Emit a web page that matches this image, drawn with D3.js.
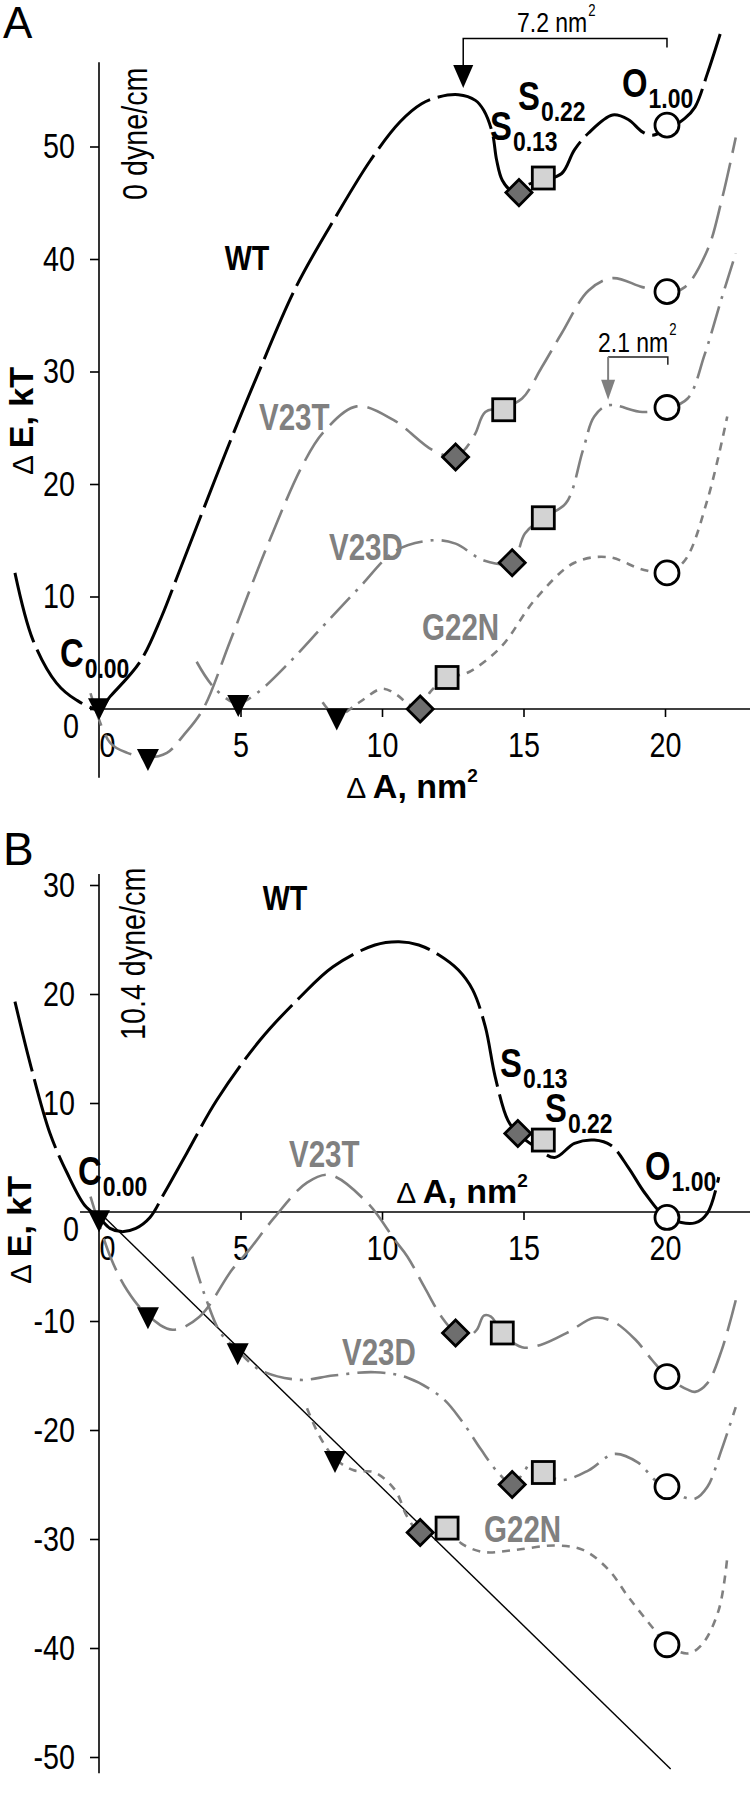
<!DOCTYPE html>
<html>
<head>
<meta charset="utf-8">
<script src="https://cdn.jsdelivr.net/npm/d3@7"></script>
<style>
  body { margin: 0; background: #fff; }
</style>
</head>
<body>
<svg id="chart" width="750" height="1800"></svg>
<script>
// ---- data (area change in nm^2, energy in kT) ----
const xTicks = [0, 5, 10, 15, 20];
const yTicksA = [0, 10, 20, 30, 40, 50];
const yTicksB = [30, 20, 10, 0, -10, -20, -30, -40, -50];

// panel A, 0 dyne/cm
const wtA = [[-2.97,12.1],[-2.33,6.1],[-1.5,2.3],[-0.8,0.8],[0,0],[0.39,1.1],[1.45,4.2],[2.21,8.2],[2.74,11.6],[3.45,16.2],[4.51,23.0],[5.57,29.5],[6.98,37.6],[8.4,43.9],[9.6,48.8],[10.64,52.2],[11.4,53.8],[12.0,54.4],[12.7,54.6],[13.3,54.1],[13.6,53.2],[13.9,51.2],[14.05,48.8],[14.25,47.0],[14.6,46.0],[14.85,45.9],[15.15,46.6],[15.7,47.0],[16.35,47.6],[16.8,49.7],[17.3,51.2],[18.15,52.8],[18.7,52.4],[19.2,51.3],[19.55,51.0],[20.07,51.5],[20.7,52.5],[21.06,53.5],[21.5,56.5],[21.95,60]];
const v23tA = [[-0.3,1.4],[0.39,-3.0],[1.0,-3.9],[1.73,-4.3],[2.4,-3.9],[3.0,-2.3],[3.68,0],[4.63,6.0],[5.93,14.4],[7.22,21.8],[7.93,24.6],[9.1,26.9],[10.4,25.7],[11.8,23.0],[12.6,22.4],[13.0,23.3],[13.3,24.5],[13.65,26.4],[14.3,26.8],[14.95,27.6],[15.65,30.4],[16.35,33.4],[17.3,37.2],[18.15,38.3],[19.2,37.5],[20.07,37.0],[20.7,37.5],[21.5,40.8],[22.0,45.2],[22.5,50.8]];
const v23dA = [[3.45,4.2],[4.1,1.8],[4.9,0.5],[5.57,1.4],[6.75,4.2],[7.93,7.4],[9.2,10.8],[10.5,14.1],[11.8,15.0],[12.6,14.7],[13.6,13.2],[14.6,13.0],[15.05,15.6],[15.7,17.0],[16.5,18.3],[17.1,23.0],[17.5,26.0],[18.0,27.0],[19.2,26.4],[20.07,26.7],[20.8,27.6],[21.4,31.5],[22.0,36.5],[22.5,40.5]];
const g22nA = [[7.9,0.6],[8.4,-0.6],[9.2,0.6],[10.0,1.8],[10.5,1.3],[10.9,0.5],[11.35,0],[11.7,1.5],[12.3,2.8],[13.0,3.2],[14.2,5.5],[15.4,9.7],[16.8,13.0],[18.0,13.5],[19.2,12.4],[20.07,12.1],[20.7,13.2],[21.5,18.6],[22.2,26.0]];

const closedA = [[0,0.3],[1.73,-4.2],[4.92,0.6],[8.4,-0.6]];
const sub013A = [[14.84,45.9],[12.6,22.4],[14.6,13.0],[11.35,0]];
const sub022A = [[15.7,47.2],[14.3,26.6],[15.7,17.0],[12.3,2.8]];
const openA = [[20.07,51.9],[20.07,37.1],[20.07,26.8],[20.07,12.1]];

// panel B, 10.4 dyne/cm
const wtB = [[-2.97,19.3],[-2.4,13.3],[-1.73,7.2],[-1.13,3.6],[-0.5,0.6],[0,-0.5],[0.39,-1.5],[0.8,-1.8],[1.3,-1.5],[1.8,-0.5],[2.3,1.7],[3.1,5.4],[4.17,10.3],[5.7,15.8],[7.1,19.7],[8.27,22.5],[9.75,24.5],[10.6,24.8],[11.3,24.5],[12.0,23.6],[12.7,22.2],[13.2,20.4],[13.65,17.0],[14.0,12.4],[14.45,8.4],[14.8,7.2],[15.4,6.0],[16.1,5.0],[16.8,6.3],[17.5,6.6],[18.1,6.1],[18.7,4.1],[19.3,1.7],[20.07,-0.5],[21.06,-1.0],[21.5,-0.1],[21.9,3.2]];
const v23tB = [[-0.3,1.4],[0.4,-4.1],[1.0,-7.2],[1.73,-9.5],[2.6,-10.8],[3.55,-9.6],[4.7,-5.3],[5.3,-3.5],[6.2,-0.5],[7.35,2.7],[8.16,3.4],[9.5,0.8],[10.46,-2.6],[10.9,-4.1],[11.5,-6.9],[12.1,-9.6],[12.6,-11.1],[13.0,-11.5],[13.35,-10.8],[13.6,-9.5],[13.85,-9.6],[14.25,-11.1],[14.95,-12.4],[15.6,-12.2],[16.6,-11.0],[17.5,-9.7],[18.2,-10.1],[18.95,-11.7],[19.55,-13.6],[20.07,-15.1],[20.8,-16.3],[21.06,-16.5],[21.5,-15.7],[22.0,-12.7],[22.5,-8.1]];
const v23dB = [[3.3,-4.1],[3.8,-8.1],[4.3,-11.1],[4.9,-12.7],[5.7,-14.5],[7.1,-15.4],[8.27,-15.0],[9.75,-14.7],[10.9,-15.2],[12.1,-17.0],[12.8,-19.1],[13.5,-21.8],[14.1,-23.9],[14.6,-25.0],[15.05,-23.7],[15.25,-23.0],[15.7,-23.9],[16.35,-24.6],[17.3,-23.7],[18.2,-22.2],[19.05,-23.0],[19.65,-24.6],[20.07,-25.2],[20.7,-26.2],[21.06,-26.3],[21.5,-25.2],[22.0,-21.8],[22.5,-17.9]];
const g22nB = [[7.35,-18.0],[7.8,-20.6],[8.34,-22.6],[9.0,-23.7],[9.75,-23.9],[10.46,-25.5],[10.9,-28.0],[11.35,-29.4],[12.3,-29.0],[12.8,-30.4],[13.6,-31.2],[14.7,-31.0],[16.1,-30.6],[17.1,-31.0],[18.0,-32.8],[18.7,-35.3],[19.55,-38.1],[20.07,-39.7],[20.8,-40.5],[21.3,-39.7],[21.9,-36.5],[22.2,-31.7]];

const closedB = [[0,-0.5],[1.73,-9.4],[4.9,-12.7],[8.34,-22.6]];
const sub013B = [[14.8,7.2],[12.6,-11.1],[14.6,-25.0],[11.35,-29.4]];
const sub022B = [[15.7,6.6],[14.25,-11.1],[15.7,-23.9],[12.3,-29.0]];
const openB = [[20.07,-0.5],[20.07,-15.1],[20.07,-25.2],[20.07,-39.7]];
const tensionLine = [[0,0],[20.2,-51.1]];

// ---- setup ----
const SANS = '"Liberation Sans",Arial,sans-serif';
const GRAY = "#808080";

const svg = d3.select("#chart");
const x = d3.scaleLinear().domain([0, 20]).range([99, 665]);
const yA = d3.scaleLinear().domain([0, 50]).range([709, 146.5]);
const yB = d3.scaleLinear().domain([0, -50]).range([1212, 1757]);

const lineStyles = [
  { stroke: "#000", width: 3, dash: "72 8" },
  { stroke: GRAY, width: 2.6, dash: "34 10" },
  { stroke: GRAY, width: 2.6, dash: "28 8 3 8" },
  { stroke: GRAY, width: 2.6, dash: "8 7" }
];

// no condensed face installed, so squeeze the glyphs like Arial Narrow
function squeeze(sel, f = 0.82) {
  sel.each(function () {
    const len = this.getComputedTextLength();
    if (len > 0) d3.select(this).attr("textLength", len * f).attr("lengthAdjust", "spacingAndGlyphs");
  });
}

function txt(s, px, py, o = {}) {
  const t = svg.append("text").attr("x", px).attr("y", py).text(s)
    .attr("font-family", SANS)
    .attr("font-size", o.size || 34)
    .attr("font-weight", o.weight || "normal")
    .attr("fill", o.fill || "#000")
    .attr("text-anchor", o.anchor || "start");
  if (o.rotate) t.attr("transform", `rotate(-90,${px},${py})`);
  if (o.narrow !== false) t.call(squeeze);
  return t;
}

function stateLabel(letter, sub, px, py) {
  const t = txt(letter, px, py, { size: 40, weight: "bold" });
  const w = t.node().getBBox().width;
  txt(sub, px + w + 1, py + 11, { size: 28, weight: "bold" });
}

function deltaTitle(word, px, py, rotate) {
  const t = svg.append("text").attr("x", px).attr("y", py).attr("font-family", SANS)
    .attr("text-anchor", "middle");
  if (rotate) t.attr("transform", `rotate(-90,${px},${py})`);
  t.append("tspan").attr("font-size", 30).text("\u0394 ");
  t.append("tspan").attr("font-size", 34).attr("font-weight", "bold").text(word);
  if (!rotate) t.append("tspan").attr("font-size", 19).attr("font-weight", "bold").attr("dy", -16).text("2");
  return t;
}

function drawPanel(y, yTicks, yLo, yHi, xLeft, curves, markers) {
  // x axis
  const gx = svg.append("g").attr("transform", `translate(0,${y(0)})`)
    .call(d3.axisBottom(x).tickValues(xTicks).tickSize(8).tickPadding(15).tickFormat(d => String(d)));
  gx.attr("font-family", SANS).attr("font-size", 35);
  gx.select(".domain").remove();
  gx.append("line").attr("x1", x(xLeft)).attr("x2", 750).attr("stroke", "#000").attr("stroke-width", 1.6);
  gx.selectAll(".tick line").attr("stroke-width", 1.6);
  gx.selectAll(".tick text").filter(d => d === 0).attr("x", 8);
  gx.selectAll(".tick text").call(squeeze);

  // y axis
  const gy = svg.append("g").attr("transform", `translate(${x(0)},0)`)
    .call(d3.axisLeft(y).tickValues(yTicks).tickSize(9).tickPadding(15).tickFormat(d => String(d)));
  gy.attr("font-family", SANS).attr("font-size", 35);
  gy.select(".domain").remove();
  gy.append("line").attr("y1", y(yLo)).attr("y2", y(yHi)).attr("stroke", "#000").attr("stroke-width", 1.6);
  gy.selectAll(".tick line").attr("stroke-width", 1.6);
  gy.selectAll(".tick text").filter(d => d === 0).attr("y", 17).attr("x", -20);
  gy.selectAll(".tick text").call(squeeze);

  const line = d3.line().x(d => x(d[0])).y(d => y(d[1])).curve(d3.curveCatmullRom.alpha(0.5));
  curves.forEach((c, i) => {
    const s = lineStyles[i];
    svg.append("path").datum(c).attr("d", line)
      .attr("fill", "none").attr("stroke", s.stroke).attr("stroke-width", s.width)
      .attr("stroke-dasharray", s.dash);
  });

  const [closed, s013, s022, open] = markers;
  svg.append("g").selectAll("path").data(closed).join("path")
    .attr("d", "M-11,-7.3L11,-7.3L0,14.7Z")
    .attr("transform", d => `translate(${x(d[0])},${y(d[1])})`)
    .attr("fill", "#000");
  svg.append("g").selectAll("path").data(s013).join("path")
    .attr("d", d3.symbol(d3.symbolSquare, 340))
    .attr("transform", d => `translate(${x(d[0])},${y(d[1])}) rotate(45)`)
    .attr("fill", "#6e6e6e").attr("stroke", "#000").attr("stroke-width", 2.8);
  svg.append("g").selectAll("rect").data(s022).join("rect")
    .attr("x", d => x(d[0]) - 11).attr("y", d => y(d[1]) - 11)
    .attr("width", 22).attr("height", 22)
    .attr("fill", "#d3d3d3").attr("stroke", "#000").attr("stroke-width", 2.8);
  svg.append("g").selectAll("circle").data(open).join("circle")
    .attr("cx", d => x(d[0])).attr("cy", d => y(d[1])).attr("r", 12)
    .attr("fill", "#fff").attr("stroke", "#000").attr("stroke-width", 2.8);
}

// ---- panel A ----
drawPanel(yA, yTicksA, -6.1, 57.5, 0, [wtA, v23tA, v23dA, g22nA], [closedA, sub013A, sub022A, openA]);

// ---- panel B ----
svg.append("path").datum(tensionLine)
  .attr("d", d3.line().x(d => x(d[0])).y(d => yB(d[1])))
  .attr("stroke", "#000").attr("stroke-width", 1.4).attr("fill", "none");
drawPanel(yB, yTicksB, 31, -51.5, -0.67, [wtB, v23tB, v23dB, g22nB], [closedB, sub013B, sub022B, openB]);

// ---- annotations A ----
txt("A", 3, 38, { size: 44, narrow: false });
txt("0 dyne/cm", 147, 200, { size: 35, rotate: true });
txt("WT", 247, 270, { size: 35, weight: "bold", anchor: "middle" });
txt("V23T", 259, 430, { size: 36, weight: "bold", fill: GRAY });
txt("V23D", 329, 560, { size: 36, weight: "bold", fill: GRAY });
txt("G22N", 422, 640, { size: 36, weight: "bold", fill: GRAY });
stateLabel("C", "0.00", 60, 667);
stateLabel("S", "0.13", 490, 140);
stateLabel("S", "0.22", 518, 110);
stateLabel("O", "1.00", 622, 97);

// 7.2 nm2 bracket
svg.append("path")
  .attr("d", `M${x(12.87)},${yA(56.8)} V${yA(59.6)} H${x(20.07)} V${yA(58.8)}`)
  .attr("fill", "none").attr("stroke", "#000").attr("stroke-width", 1.5);
svg.append("path")
  .attr("d", `M${x(12.87)},${yA(55.2)} l-10,-23 h20 z`).attr("fill", "#000");
const l72 = txt("7.2 nm", 517, 32, { size: 28 });
txt("2", 517 + l72.node().getBBox().width + 1, 16, { size: 16 });

// 2.1 nm2 bracket
svg.append("path")
  .attr("d", `M${x(17.99)},${yA(31.3)} H${x(20.1)} V${yA(30.6)}`)
  .attr("fill", "none").attr("stroke", "#222").attr("stroke-width", 1.5);
svg.append("path")
  .attr("d", `M${x(17.99)},${yA(31.3)} V${yA(29)}`)
  .attr("stroke", GRAY).attr("stroke-width", 2);
svg.append("path")
  .attr("d", `M${x(17.99)},${yA(27.5)} l-7,-20 h14 z`).attr("fill", GRAY);
const l21 = txt("2.1 nm", 598, 352, { size: 28 });
txt("2", 598 + l21.node().getBBox().width + 1, 335, { size: 16 });

// axis titles A
deltaTitle("A, nm", 412, 798, false);
deltaTitle("E, kT", 33, 421, true);

// ---- annotations B ----
txt("B", 3, 865, { size: 46, narrow: false });
txt("10.4 dyne/cm", 145, 1040, { size: 35, rotate: true });
txt("WT", 285, 910, { size: 35, weight: "bold", anchor: "middle" });
txt("V23T", 289, 1167, { size: 36, weight: "bold", fill: GRAY });
txt("V23D", 342, 1365, { size: 36, weight: "bold", fill: GRAY });
txt("G22N", 484, 1542, { size: 36, weight: "bold", fill: GRAY });
stateLabel("C", "0.00", 78, 1185);
stateLabel("S", "0.13", 500, 1077);
stateLabel("S", "0.22", 545, 1122);
stateLabel("O", "1.00", 645, 1180);

deltaTitle("A, nm", 462, 1203, false);
deltaTitle("E, kT", 31, 1230, true);
</script>
</body>
</html>
